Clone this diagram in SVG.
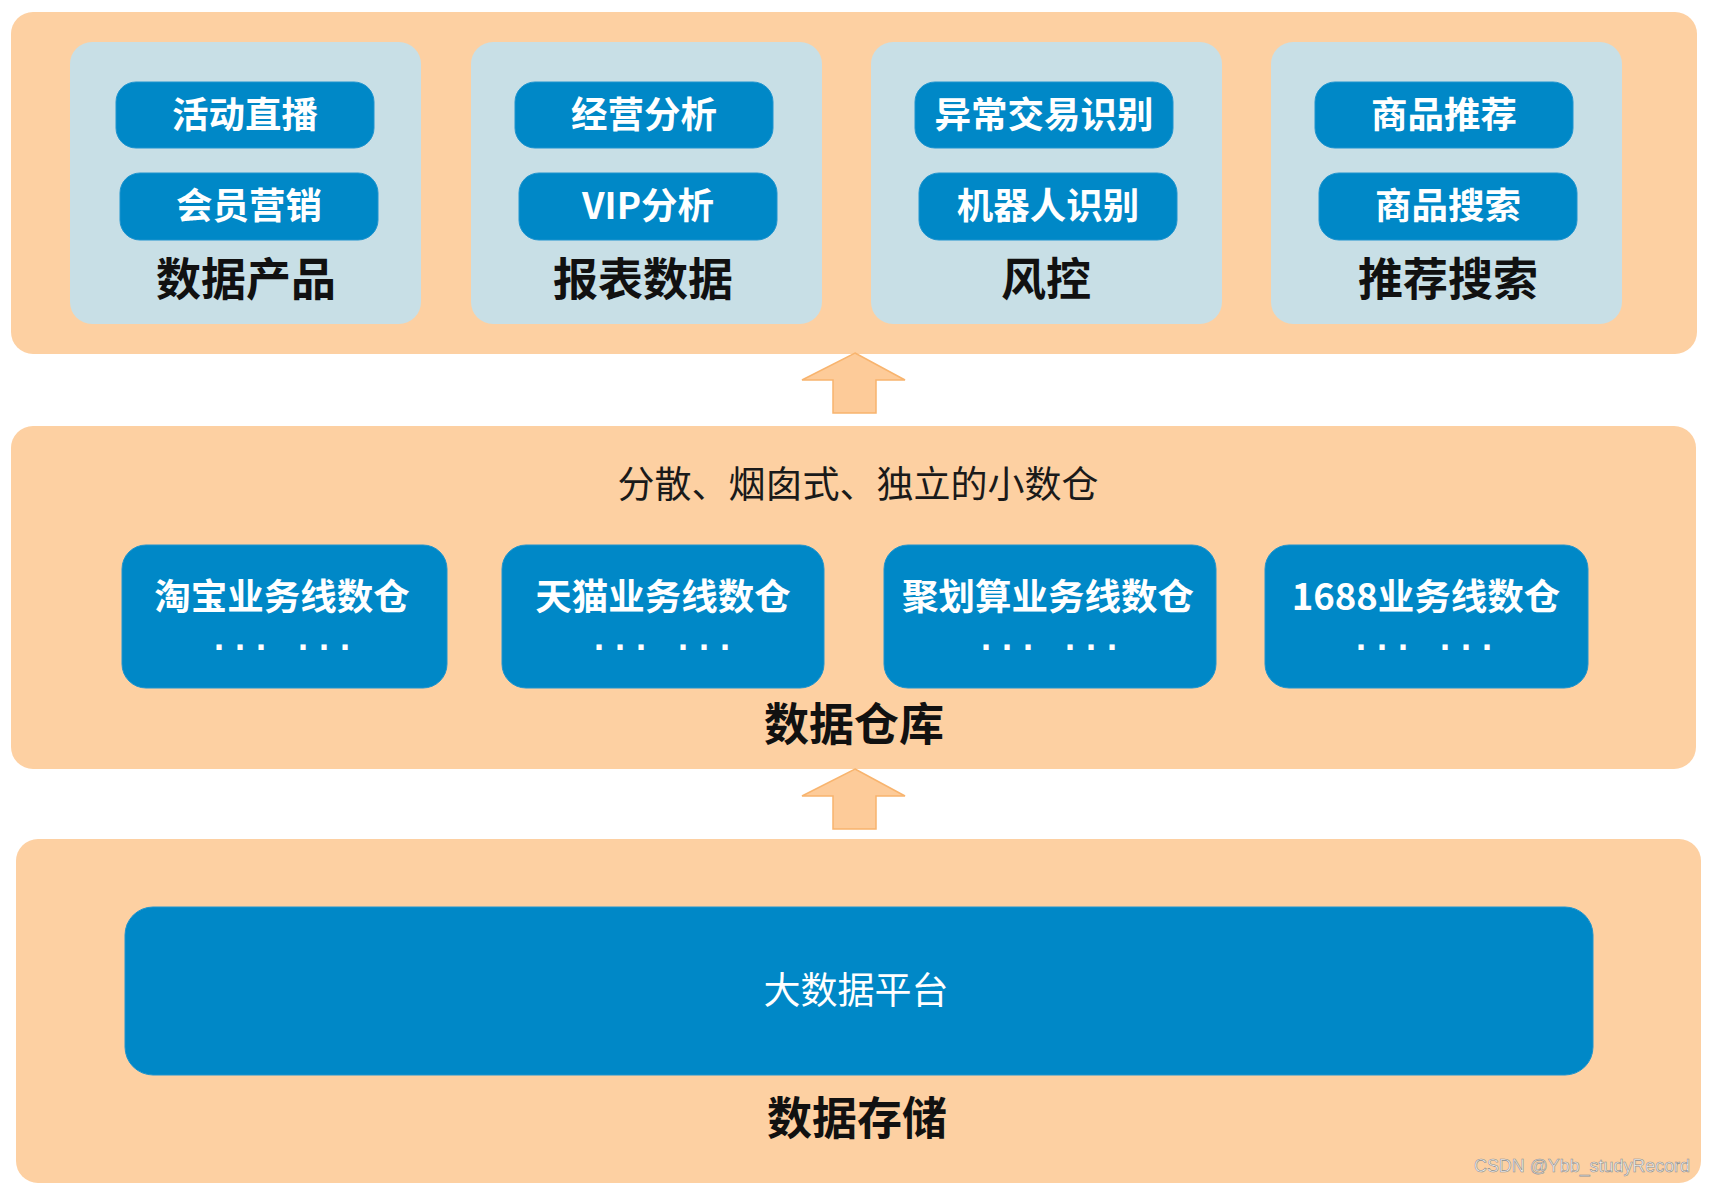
<svg xmlns="http://www.w3.org/2000/svg" width="1710" height="1184" viewBox="0 0 1710 1184">
<defs>
<style>
.panel{fill:#FDD0A2;}
.lbox{fill:#C8DFE6;}
.blue{fill:#0088C7;stroke:#1E94CF;stroke-width:1;}
.pt{font-family:"Noto Sans CJK SC","Noto Sans",sans-serif;font-size:36.5px;font-weight:bold;fill:#FFFFFF;text-anchor:middle;}
.bt{font-family:"Noto Sans CJK SC","Noto Sans",sans-serif;font-size:36.5px;font-weight:bold;fill:#FFFFFF;text-anchor:middle;}
.lab{font-family:"Noto Sans CJK SC","Noto Sans",sans-serif;font-size:45px;font-weight:bold;fill:#111111;text-anchor:middle;}
.sub{font-family:"Noto Sans CJK SC","Noto Sans",sans-serif;font-size:37px;font-weight:normal;fill:#1A1A1A;text-anchor:middle;}
.plat{font-family:"Noto Sans CJK SC","Noto Sans",sans-serif;font-size:37px;font-weight:normal;fill:#FFFFFF;text-anchor:middle;}
.dots{font-family:"Liberation Sans",Arial,sans-serif;font-size:36px;font-weight:bold;fill:#FFFFFF;}
.arrow{fill:#FDCB99;stroke:#F8B46E;stroke-width:1.5;}
.wm{font-family:"Liberation Sans",Arial,sans-serif;font-size:19px;fill:#F4F4F4;stroke:#8C8C8C;stroke-width:0.6;}
</style>
</defs>
<rect width="1710" height="1184" fill="#FFFFFF"/>

<g id="layer-products">
<rect class="panel" x="11" y="12" width="1686" height="342" rx="22"/>
</g>
<g id="group-data-products">
<rect class="lbox" x="70" y="42" width="351" height="282" rx="22"/>
<rect class="blue" x="116" y="82" width="258" height="66" rx="20"/>
<text class="pt" x="245" y="128">活动直播</text>
<rect class="blue" x="120" y="173" width="258" height="67" rx="20"/>
<text class="pt" x="249" y="219">会员营销</text>
<text class="lab" x="246" y="296">数据产品</text>
</g>
<g id="group-report">
<rect class="lbox" x="471" y="42" width="351" height="282" rx="22"/>
<rect class="blue" x="515" y="82" width="258" height="66" rx="20"/>
<text class="pt" x="644" y="128">经营分析</text>
<rect class="blue" x="519" y="173" width="258" height="67" rx="20"/>
<text class="pt" x="648" y="219">VIP分析</text>
<text class="lab" x="643" y="296">报表数据</text>
</g>
<g id="group-risk">
<rect class="lbox" x="871" y="42" width="351" height="282" rx="22"/>
<rect class="blue" x="915" y="82" width="258" height="66" rx="20"/>
<text class="pt" x="1044" y="128">异常交易识别</text>
<rect class="blue" x="919" y="173" width="258" height="67" rx="20"/>
<text class="pt" x="1048" y="219">机器人识别</text>
<text class="lab" x="1046" y="296">风控</text>
</g>
<g id="group-search">
<rect class="lbox" x="1271" y="42" width="351" height="282" rx="22"/>
<rect class="blue" x="1315" y="82" width="258" height="66" rx="20"/>
<text class="pt" x="1444" y="128">商品推荐</text>
<rect class="blue" x="1319" y="173" width="258" height="67" rx="20"/>
<text class="pt" x="1448" y="219">商品搜索</text>
<text class="lab" x="1448" y="296">推荐搜索</text>
</g>

<g id="layer-warehouse">
<rect class="panel" x="11" y="426" width="1685" height="343" rx="22"/>
<text class="sub" x="858" y="498">分散、烟囱式、独立的小数仓</text>
<text class="lab" x="854" y="741">数据仓库</text>
</g>
<g id="dw-taobao">
<rect class="blue" x="122" y="545" width="325" height="143" rx="24"/>
<text class="bt" x="282" y="610">淘宝业务线数仓</text>
<text class="dots" x="214 235 256 277 298 319 340" y="650">... ...</text>
</g>
<g id="dw-tmall">
<rect class="blue" x="502" y="545" width="322" height="143" rx="24"/>
<text class="bt" x="663" y="610">天猫业务线数仓</text>
<text class="dots" x="594 615 636 657 678 699 720" y="650">... ...</text>
</g>
<g id="dw-juhuasuan">
<rect class="blue" x="884" y="545" width="332" height="143" rx="24"/>
<text class="bt" x="1048" y="610">聚划算业务线数仓</text>
<text class="dots" x="981 1002 1023 1044 1065 1086 1107" y="650">... ...</text>
</g>
<g id="dw-1688">
<rect class="blue" x="1265" y="545" width="323" height="143" rx="24"/>
<text class="bt" x="1426" y="610">1688业务线数仓</text>
<text class="dots" x="1356 1377 1398 1419 1440 1461 1482" y="650">... ...</text>
</g>

<g id="layer-storage">
<rect class="panel" x="16" y="839" width="1685" height="344" rx="22"/>
<text class="lab" x="857" y="1135">数据存储</text>
</g>
<g id="big-data-platform">
<rect class="blue" x="125" y="907" width="1468" height="168" rx="28"/>
<text class="plat" x="856" y="1004">大数据平台</text>
</g>

<g id="connectors">
<path class="arrow" d="M855,353 L905,380 L876,380 L876,413 L833,413 L833,380 L802,380 Z"/>
<path class="arrow" d="M855,769 L905,796 L876,796 L876,829 L833,829 L833,796 L802,796 Z"/>
</g>

<text class="wm" x="1474" y="1172" textLength="216" lengthAdjust="spacingAndGlyphs">CSDN @Ybb_studyRecord</text>
</svg>
